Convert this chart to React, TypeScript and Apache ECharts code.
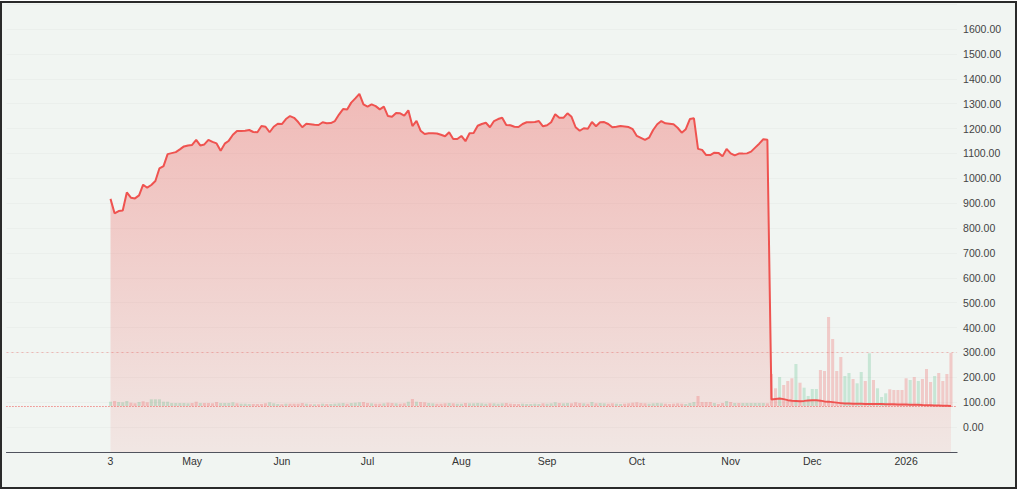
import React, { useEffect, useRef } from "react";
import * as echarts from "echarts";

// ---- DATA ----
const START_DATE = "2025-04-03";
const TRADING_DAYS = 207;

const closes: number[] = [
  917, 859, 868, 870, 943, 922, 919, 931, 974, 962,
  973, 989, 1040, 1049, 1097, 1101, 1105, 1116, 1128, 1132,
  1134, 1154, 1132, 1136, 1154, 1146, 1140, 1111, 1139, 1151,
  1175, 1190, 1190, 1191, 1194, 1186, 1185, 1210, 1207, 1185,
  1207, 1219, 1218, 1238, 1250, 1243, 1226, 1205, 1219, 1217,
  1215, 1214, 1225, 1221, 1222, 1230, 1256, 1278, 1276, 1304,
  1321, 1339, 1297, 1288, 1297, 1290, 1277, 1288, 1250, 1247,
  1262, 1261, 1252, 1273, 1210, 1231, 1191, 1178, 1181, 1181,
  1180, 1175, 1169, 1185, 1158, 1158, 1170, 1149, 1181, 1182,
  1211, 1218, 1223, 1205, 1230, 1238, 1243, 1214, 1213, 1207,
  1206, 1218, 1225, 1225, 1226, 1230, 1209, 1213, 1225, 1257,
  1243, 1243, 1261, 1247, 1205, 1191, 1201, 1199, 1226, 1209,
  1225, 1226, 1218, 1205, 1207, 1210, 1208, 1206, 1197, 1170,
  1162, 1154, 1163, 1194, 1217, 1230, 1221, 1219, 1217, 1203,
  1183, 1197, 1238, 1241, 1118, 1114, 1093, 1093, 1103, 1102,
  1088, 1118, 1100, 1092, 1099, 1099, 1100, 1107, 1123, 1139,
  1157, 1155, 111, 113, 115, 112, 108, 106, 105, 104,
  105, 107, 108, 108, 106, 103, 102, 100, 98, 96,
  94, 94, 93.5, 93, 93, 92.5, 92.5, 92, 92, 92,
  91.5, 91, 91, 90.5, 90, 90, 89.5, 89, 89, 88,
  87.5, 87, 86.5, 86, 85.5, 85, 84.5,
];

// volume in thousand shares
const volumes: number[] = [
  43, 50, 40, 37, 50, 33, 27, 40, 47, 37,
  67, 67, 67, 43, 43, 30, 30, 30, 30, 27,
  30, 43, 30, 30, 30, 27, 40, 30, 30, 30,
  37, 27, 23, 23, 20, 20, 20, 20, 27, 37,
  27, 20, 17, 23, 23, 23, 23, 30, 23, 17,
  17, 17, 23, 20, 20, 23, 27, 30, 23, 30,
  33, 37, 40, 30, 27, 23, 23, 27, 33, 30,
  27, 23, 27, 43, 70, 43, 40, 37, 30, 27,
  23, 23, 27, 30, 27, 23, 23, 30, 27, 27,
  30, 27, 23, 27, 27, 23, 27, 30, 23, 20,
  20, 23, 20, 20, 23, 20, 27, 23, 27, 37,
  30, 27, 30, 27, 37, 30, 27, 23, 40, 27,
  30, 27, 23, 27, 23, 20, 23, 27, 33, 37,
  30, 27, 23, 27, 30, 27, 23, 20, 23, 27,
  23, 20, 30, 40, 100, 40, 40, 40, 30, 20,
  30, 50, 40, 30, 30, 30, 30, 30, 30, 30,
  30, 27, 320, 177, 290, 210, 250, 277, 420, 233,
  183, 100, 170, 170, 360, 350, 890, 670, 350, 490,
  300, 330, 270, 227, 340, 250, 527, 260, 177, 90,
  127, 167, 160, 160, 160, 277, 260, 290, 250, 270,
  370, 240, 300, 330, 250, 320, 530,
];

// g = up day (green volume), p = down day (red volume)
const volumeDirection =
  "gpgggppgpp" + "gggggggggg" + "ppgppppggg" + "gpgggppppg" + "ggpgppppgp" +
  "gpgpggggpg" + "ggppgppgpp" + "gppgpgppgg" + "pppgpggpgg" + "gggpgggppp" +
  "pgggggpggg" + "pggpppgpgp" + "ggppggpppp" + "ppggggpppp" + "pgggppppgp" +
  "pgpgpggggg" + "gpppgpppgp" + "ggggpppppp" + "ggpggpgpgg" + "gpppppgpgp" +
  "ppgpppp";

const tickDates = [
  "2025-04-03", "2025-05-01", "2025-06-02", "2025-07-01", "2025-08-01",
  "2025-09-01", "2025-10-01", "2025-11-03", "2025-12-01", "2026-01-01",
];
const tickLabels = ["3", "May", "Jun", "Jul", "Aug", "Sep", "Oct", "Nov", "Dec", "2026"];

const referenceLevel = 300;

// ---- LAYOUT ----
const LEAD_PAD = 25;
const TRAIL_PAD = 1;
const FONT = "'Liberation Sans Narrow', 'Arial Narrow', 'Liberation Sans', Arial, sans-serif";

function buildDates(): string[] {
  const out: string[] = [];
  const [y, m, d] = START_DATE.split("-").map(Number);
  const cur = new Date(Date.UTC(y, m - 1, d));
  while (out.length < TRADING_DAYS) {
    const wd = cur.getUTCDay();
    if (wd !== 0 && wd !== 6) out.push(cur.toISOString().slice(0, 10));
    cur.setUTCDate(cur.getUTCDate() + 1);
  }
  return out;
}

export default function App() {
  const ref = useRef<HTMLDivElement>(null);

  useEffect(() => {
    if (!ref.current) return;
    const chart = echarts.init(ref.current, undefined, { renderer: "svg" });

    const dates = buildDates();
    const lead = Array.from({ length: LEAD_PAD }, (_, i) => `pad-${i}`);
    const trail = Array.from({ length: TRAIL_PAD }, (_, i) => `end-${i}`);
    const categories = [...lead, ...dates, ...trail];
    const labelByDate = new Map<string, string>();
    tickDates.forEach((d, i) => labelByDate.set(d, tickLabels[i]));

    const nullsLead = Array(LEAD_PAD).fill(null);
    const nullsTrail = Array(TRAIL_PAD).fill(null);
    const priceData = [...nullsLead, ...closes, ...nullsTrail];
    const volData = [
      ...nullsLead,
      ...volumes.map((v, i) => ({
        value: v,
        itemStyle: {
          color: volumeDirection[i] === "g" ? "rgba(34,171,100,0.2)" : "rgba(239,83,80,0.26)",
        },
      })),
      ...nullsTrail,
    ];
    const lastClose = closes[closes.length - 1];

    chart.setOption({
      animation: false,
      backgroundColor: "transparent",
      grid: { left: 6.46, right: 1024 - 957.1, top: 4.125, bottom: 40.125, containLabel: false },
      xAxis: {
        type: "category",
        data: categories,
        boundaryGap: true,
        axisLine: { show: true, onZero: false, lineStyle: { color: "#50535e", width: 1 } },
        axisTick: { show: false },
        splitLine: { show: false },
        axisLabel: {
          interval: (_i: number, v: string) => labelByDate.has(v),
          formatter: (v: string) => labelByDate.get(v) ?? "",
          color: "#333333",
          fontSize: 10.5,
          fontFamily: FONT,
          margin: 4,
          hideOverlap: false,
        },
      },
      yAxis: [
        {
          type: "value",
          position: "right",
          min: -100,
          max: 1700,
          interval: 100,
          axisLine: { show: false },
          axisTick: { show: false },
          splitLine: { show: true, lineStyle: { color: "rgba(0,0,0,0.025)", width: 1 } },
          axisLabel: {
            formatter: (v: number) => (v < 0 || v > 1600 ? "" : v.toFixed(2)),
            color: "#444444",
            fontSize: 10.5,
            fontFamily: FONT,
            margin: 6,
          },
        },
        {
          type: "value",
          min: -458.75,
          max: 4018.75,
          show: false,
          splitLine: { show: false },
        },
      ],
      series: [
        {
          type: "line",
          data: priceData,
          z: 1,
          silent: true,
          symbol: "none",
          lineStyle: { width: 0 },
          areaStyle: {
            origin: "start",
            opacity: 1,
            color: new echarts.graphic.LinearGradient(0, 0, 0, 1, [
              { offset: 0, color: "rgba(239,83,80,0.36)" },
              { offset: 1, color: "rgba(239,83,80,0.09)" },
            ]),
          },
        },
        {
          type: "bar",
          data: volData,
          yAxisIndex: 1,
          z: 2,
          silent: true,
          barCategoryGap: "25%",
        },
        {
          type: "line",
          data: priceData,
          z: 3,
          silent: true,
          symbol: "none",
          lineStyle: { color: "#ef5350", width: 2 },
          markLine: {
            silent: true,
            symbol: "none",
            label: { show: false },
            data: [
              { yAxis: lastClose, lineStyle: { color: "#ef5350", type: [1, 2], width: 1 } },
              { yAxis: referenceLevel, lineStyle: { color: "rgba(239,83,80,0.35)", type: [2, 3], width: 1 } },
            ],
          },
        },
      ],
    });

    return () => chart.dispose();
  }, []);

  return (
    <div style={{ position: "fixed", left: 0, top: 0, width: 1024, height: 492, background: "#ffffff" }}>
      <div
        style={{
          position: "absolute",
          left: 0,
          top: 1,
          width: 1017,
          height: 488,
          border: "2px solid #2a2a2a",
          boxSizing: "border-box",
          background: "#f1f5f2",
        }}
      />
      <div ref={ref} style={{ position: "absolute", left: 0, top: 0, width: 1024, height: 492 }} />
    </div>
  );
}
